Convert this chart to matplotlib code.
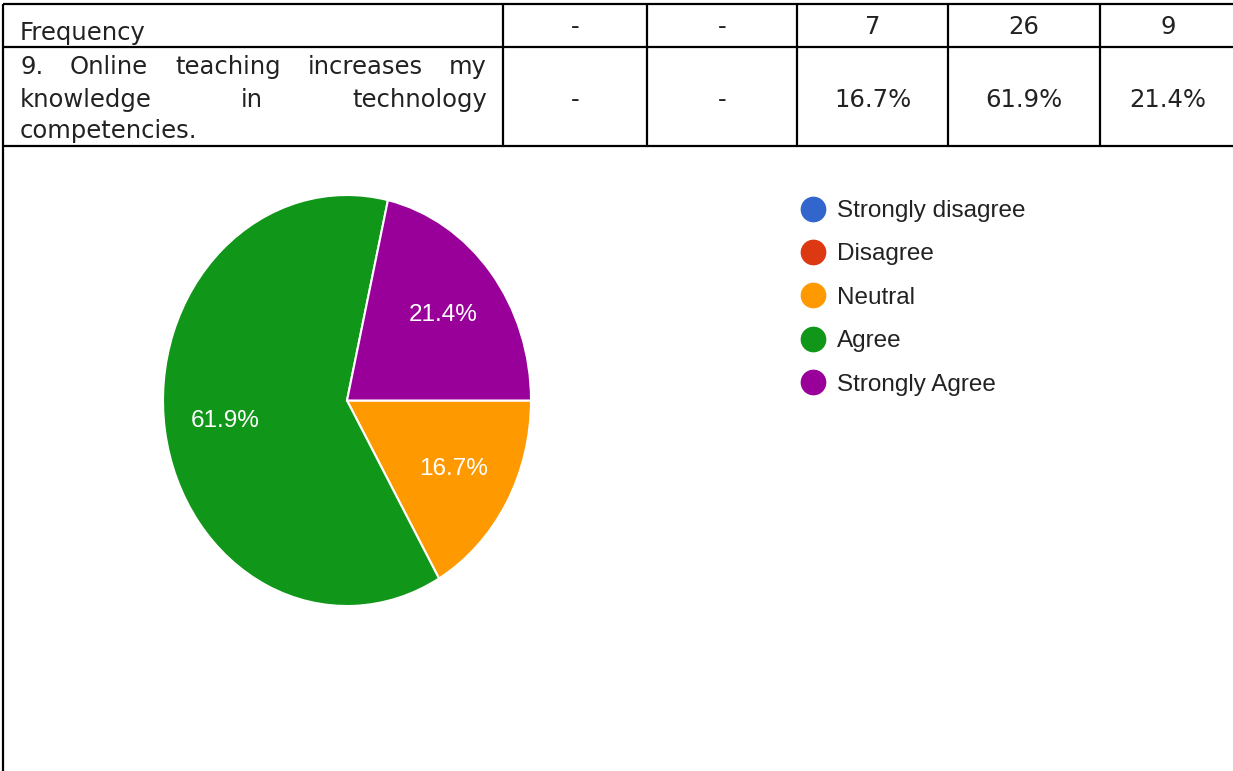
import matplotlib
matplotlib.use("Agg")
import matplotlib.pyplot as plt
from matplotlib.lines import Line2D

# survey answers for item 9
categories = ["Strongly disagree", "Disagree", "Neutral", "Agree", "Strongly Agree"]
frequency = [0, 0, 7, 26, 9]
colors = ["#3366cc", "#dc3912", "#ff9900", "#109618", "#990099"]
statement = ["9. Online teaching increases my", "knowledge in technology", "competencies."]

total = sum(frequency)
percent = [100.0 * f / total for f in frequency]

W, H = 1233, 771
fig = plt.figure(figsize=(W / 100, H / 100), dpi=100)

# full-figure axes in pixel units for the table grid
grid = fig.add_axes([0, 0, 1, 1])
grid.set_xlim(0, W)
grid.set_ylim(H, 0)
grid.axis("off")

col_edges = [3, 503, 647, 797, 948, 1100, 1236]
row_edges = [4, 47, 146]
for y in row_edges:
    grid.plot([col_edges[0], W], [y, y], color="black", lw=1.6, solid_capstyle="butt")
for x in col_edges[1:-1]:
    grid.plot([x, x], [row_edges[0], row_edges[-1]], color="black", lw=1.6, solid_capstyle="butt")
grid.plot([3, 3], [row_edges[0], H], color="black", lw=1.6, solid_capstyle="butt")

table_font = dict(family="DejaVu Sans", fontsize=17.5, color="#222222")
grid.text(20, 40, "Frequency", va="baseline", ha="left", **table_font)

centers = [(col_edges[i] + col_edges[i + 1]) / 2 for i in range(1, 6)]
for cx, f, p in zip(centers, frequency, percent):
    grid.text(cx, 34, str(f) if f else "-", ha="center", va="baseline", **table_font)
    grid.text(cx, 107, f"{p:.1f}%" if f else "-", ha="center", va="baseline", **table_font)

# justified statement text
renderer = fig.canvas.get_renderer()
left, right = 20, 487
baselines = [74, 107, 138]
for i, (line, yb) in enumerate(zip(statement, baselines)):
    words = line.split()
    if i == len(statement) - 1 or len(words) == 1:
        grid.text(left, yb, line, ha="left", va="baseline", **table_font)
        continue
    texts = [grid.text(0, yb, w, ha="left", va="baseline", **table_font) for w in words]
    widths = [t.get_window_extent(renderer).width for t in texts]
    gap = (right - left - sum(widths)) / (len(words) - 1)
    x = left
    for t, w in zip(texts, widths):
        t.set_x(x)
        x += w + gap

# pie chart, slightly taller than wide
ax = fig.add_axes([163 / W, (H - 606) / H, 368 / W, 411 / H])
wedges, _, autotexts = ax.pie(
    frequency,
    colors=colors,
    startangle=0,
    counterclock=False,
    autopct=lambda p: f"{p:.1f}%" if p > 0 else "",
    pctdistance=0.67,
    wedgeprops=dict(edgecolor="white", linewidth=1.5),
    textprops=dict(color="white", fontsize=17.5, family="Liberation Sans"),
)
ax.set_aspect("auto")
ax.set_xlim(-1, 1)
ax.set_ylim(-1, 1)

handles = [Line2D([], [], marker="o", linestyle="none", markersize=17.5,
                  markerfacecolor=c, markeredgecolor=c) for c in colors]
fig.legend(handles, categories, loc="upper left", bbox_to_anchor=(801 / W, 1 - 200 / H),
           frameon=False, prop=dict(family="Liberation Sans", size=17.5),
           labelcolor="#222222", handlelength=1.0, handletextpad=0.47,
           labelspacing=0.88, borderaxespad=0, borderpad=0)

fig.savefig("out.png", dpi=100)
